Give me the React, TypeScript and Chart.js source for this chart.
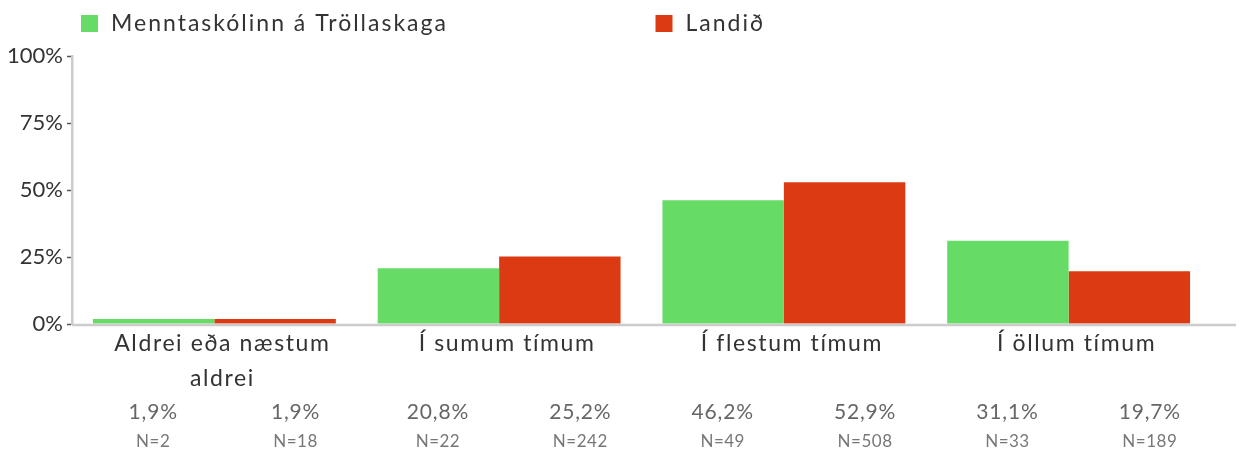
import React, { useEffect, useRef } from "react";
import { Chart, registerables } from "chart.js";

Chart.register(...registerables);

const seriesNames = ["Menntaskólinn á Tröllaskaga", "Landið"];
const seriesColors = ["#66dc67", "#dc3a13"];
const categories = [["Aldrei eða næstum", "aldrei"], ["Í sumum tímum"], ["Í flestum tímum"], ["Í öllum tímum"]];
const schoolValues = [1.9, 20.8, 46.2, 31.1];
const landValues = [1.9, 25.2, 52.9, 19.7];
const schoolN = [2, 22, 49, 33];
const landN = [18, 242, 508, 189];
const yTickValues = [0, 25, 50, 75, 100];

const FONT = "Lato, 'Noto Sans', sans-serif";

const fmtPct = (v: number) => v.toFixed(1).replace(".", ",") + "%";

const decorPlugin = {
  id: "decor",
  afterDraw(chart: any) {
    const { ctx, chartArea, scales } = chart;
    const x = scales.x;
    ctx.save();
    // bottom axis line, extended to the right
    ctx.strokeStyle = "#cccccc";
    ctx.lineWidth = 2.5;
    ctx.beginPath();
    ctx.moveTo(chartArea.left, chartArea.bottom + 1);
    ctx.lineTo(chartArea.right + 25, chartArea.bottom + 1);
    ctx.stroke();

    // legend
    const half = (chartArea.right - chartArea.left) / 2;
    const legendX = [chartArea.left + 9, chartArea.left + half + 14];
    ctx.font = `23px ${FONT}`;
    (ctx as any).letterSpacing = "2px";
    ctx.textAlign = "left";
    ctx.textBaseline = "middle";
    seriesNames.forEach((name, i) => {
      ctx.fillStyle = seriesColors[i];
      ctx.fillRect(legendX[i], 15, 17, 17);
      ctx.fillStyle = "#333333";
      ctx.fillText(name, legendX[i] + 30, 24);
    });

    // category labels and table
    const catW = x.getPixelForValue(1) - x.getPixelForValue(0);
    ctx.textAlign = "center";
    categories.forEach((lines, i) => {
      const cx = x.getPixelForValue(i);
      ctx.font = `23px ${FONT}`;
      (ctx as any).letterSpacing = "1.6px";
      ctx.fillStyle = "#333333";
      lines.forEach((line, j) => {
        ctx.fillText(line, cx + 8, 344 + j * 35);
      });
      ctx.font = `21px ${FONT}`;
      (ctx as any).letterSpacing = "0.8px";
      ctx.fillStyle = "#666666";
      ctx.fillText(fmtPct(schoolValues[i]), cx - catW / 4 + 10, 412);
      ctx.fillText(fmtPct(landValues[i]), cx + catW / 4 + 10, 412);
      ctx.font = `17px ${FONT}`;
      (ctx as any).letterSpacing = "0.5px";
      ctx.fillStyle = "#777777";
      ctx.fillText("N=" + schoolN[i], cx - catW / 4 + 10, 442);
      ctx.fillText("N=" + landN[i], cx + catW / 4 + 10, 442);
    });
    ctx.restore();
  },
};

export default function App() {
  const ref = useRef<HTMLCanvasElement | null>(null);
  useEffect(() => {
    document.body.style.margin = "0";
    const canvas = ref.current!;
    const chart = new Chart(canvas, {
      type: "bar",
      data: {
        labels: categories as any,
        datasets: [
          {
            label: seriesNames[0],
            data: schoolValues,
            backgroundColor: seriesColors[0],
            categoryPercentage: 0.853,
            barPercentage: 1,
          },
          {
            label: seriesNames[1],
            data: landValues,
            backgroundColor: seriesColors[1],
            categoryPercentage: 0.853,
            barPercentage: 1,
          },
        ],
      },
      options: {
        animation: false,
        responsive: false,
        devicePixelRatio: 1,
        layout: { padding: { top: 56, right: 31, bottom: 131, left: 0 } },
        plugins: { legend: { display: false }, tooltip: { enabled: false } },
        scales: {
          x: {
            grid: { display: false, drawTicks: false },
            ticks: { display: false },
            border: { display: false },
          },
          y: {
            min: 0,
            max: 100,
            afterFit: (s: any) => {
              s.width = 72;
            },
            afterBuildTicks: (s: any) => {
              s.ticks = yTickValues.map((v) => ({ value: v }));
            },
            ticks: {
              callback: (v: any) => v + "%",
              color: "#333333",
              font: { family: FONT, size: 22 },
              padding: 4,
            },
            grid: {
              drawOnChartArea: false,
              drawTicks: true,
              tickLength: 5,
              tickColor: "#555555",
              tickWidth: 1.5,
            },
            border: { color: "#cccccc", width: 2.5 },
          },
        },
      },
      plugins: [decorPlugin],
    });
    return () => chart.destroy();
  }, []);
  return <canvas ref={ref} width={1242} height={455} style={{ display: "block" }} />;
}
